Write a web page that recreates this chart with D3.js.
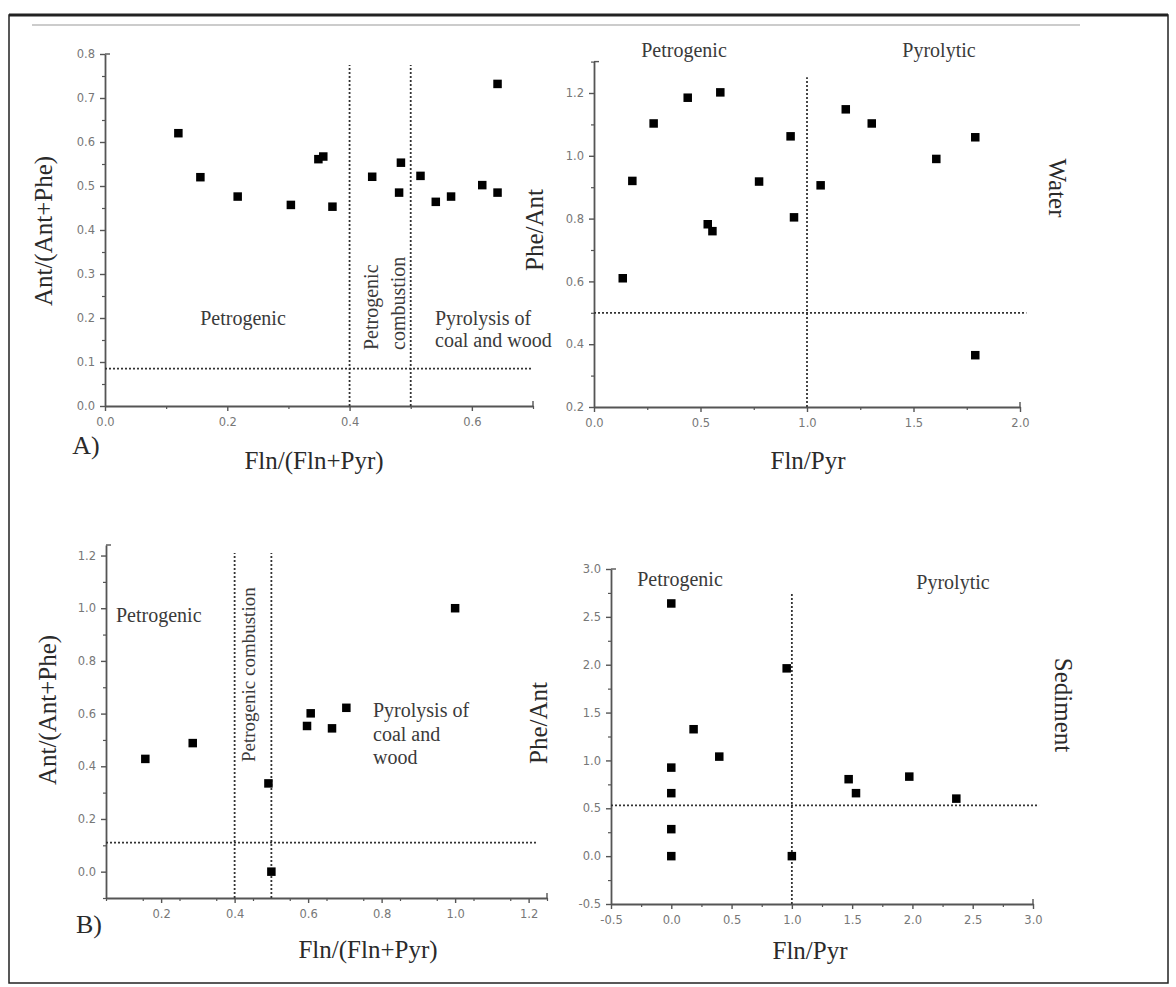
<!DOCTYPE html>
<html><head><meta charset="utf-8">
<script src="https://cdn.jsdelivr.net/npm/d3@7"></script>
<style>body{margin:0;background:#fff}svg{display:block}</style>
</head><body>
<script>
// ---- data ----
const waterAntRatioX = [0.12, 0.156, 0.217, 0.304, 0.349, 0.357, 0.372, 0.437, 0.484, 0.481, 0.516, 0.541, 0.566, 0.617, 0.642, 0.642];
const waterAntRatioY = [0.62, 0.52, 0.476, 0.457, 0.561, 0.567, 0.453, 0.521, 0.553, 0.485, 0.523, 0.464, 0.476, 0.502, 0.485, 0.732];
const waterFlnPyr = [0.135, 0.18, 0.28, 0.44, 0.593, 0.534, 0.556, 0.775, 0.923, 0.939, 1.064, 1.182, 1.304, 1.607, 1.79, 1.79];
const waterPheAnt = [0.61, 0.92, 1.103, 1.185, 1.202, 0.782, 0.76, 0.918, 1.062, 0.804, 0.906, 1.148, 1.103, 0.99, 1.059, 0.365];
const sedAntRatioX = [0.157, 0.286, 0.492, 0.5, 0.597, 0.607, 0.665, 0.704, 1.0];
const sedAntRatioY = [0.428, 0.488, 0.335, 0.0, 0.553, 0.601, 0.544, 0.622, 1.0];
const sedFlnPyr = [0, 0, 0, 0, 0, 0.185, 0.398, 0.957, 1.0, 1.471, 1.532, 1.974, 2.364];
const sedPheAnt = [2.64, 0.925, 0.658, 0.282, 0, 1.326, 1.04, 1.962, 0, 0.804, 0.658, 0.831, 0.601];

const thresholdA = {v: [0.4, 0.5], h: 0.085};
const thresholdC = {v: [1.0], h: 0.5};
const thresholdB = {v: [0.4, 0.5], h: 0.11};
const thresholdD = {v: [1.0], h: 0.53};

const ticksA_x = [0, 0.2, 0.4, 0.6], ticksA_y = [0, 0.1, 0.2, 0.3, 0.4, 0.5, 0.6, 0.7, 0.8];
const ticksC_x = [0, 0.5, 1.0, 1.5, 2.0], ticksC_y = [0.2, 0.4, 0.6, 0.8, 1.0, 1.2];
const ticksB_x = [0.2, 0.4, 0.6, 0.8, 1.0, 1.2], ticksB_y = [0, 0.2, 0.4, 0.6, 0.8, 1.0, 1.2];
const ticksD_x = [-0.5, 0, 0.5, 1.0, 1.5, 2.0, 2.5, 3.0], ticksD_y = [-0.5, 0, 0.5, 1.0, 1.5, 2.0, 2.5, 3.0];

const W = 1176, H = 987;
const svg = d3.select("body").append("svg").attr("width", W).attr("height", H);
svg.append("rect").attr("width", W).attr("height", H).attr("fill", "#fff");

// frame
svg.append("rect").attr("x", 9).attr("y", 15).attr("width", 1159).attr("height", 968)
  .attr("fill", "none").attr("stroke", "#222").attr("stroke-width", 1.5);
svg.append("line").attr("x1", 9).attr("x2", 1168).attr("y1", 15).attr("y2", 15)
  .attr("stroke", "#222").attr("stroke-width", 3);
svg.append("line").attr("x1", 32).attr("x2", 1080).attr("y1", 25).attr("y2", 25)
  .attr("stroke", "#bbb").attr("stroke-width", 1.5);

const serif = "'Liberation Serif', 'Times New Roman', serif";
const fmt = v => d3.format(".1f")(v).replace("\u2212", "-");

function panel(cfg) {
  const x = d3.scaleLinear().domain(cfg.xd).range(cfg.xr);
  const y = d3.scaleLinear().domain(cfg.yd).range(cfg.yr);
  const g = svg.append("g");
  const axColor = "#555";
  // minor ticks
  const xMinor = g.append("g").attr("transform", `translate(0,${cfg.yr[0]})`)
    .call(d3.axisBottom(x).tickValues(d3.range(cfg.xd[0], cfg.xd[1] + 1e-9, cfg.xm).filter(v => !cfg.xt.some(t => Math.abs(t - v) < 1e-6))).tickSize(3).tickFormat(""));
  const yMinor = g.append("g").attr("transform", `translate(${cfg.xr[0]},0)`)
    .call(d3.axisLeft(y).tickValues(d3.range(cfg.yd[0], cfg.yd[1] + 1e-9, cfg.ym).filter(v => !cfg.yt.some(t => Math.abs(t - v) < 1e-6))).tickSize(3).tickFormat(""));
  [xMinor, yMinor].forEach(a => { a.select(".domain").remove(); a.selectAll("line").attr("stroke", axColor).attr("stroke-width", 1.2); });
  // major axes
  const xa = g.append("g").attr("transform", `translate(0,${cfg.yr[0]})`)
    .call(d3.axisBottom(x).tickValues(cfg.xt).tickSize(5).tickPadding(7).tickSizeOuter(0).tickFormat(fmt));
  const ya = g.append("g").attr("transform", `translate(${cfg.xr[0]},0)`)
    .call(d3.axisLeft(y).tickValues(cfg.yt).tickSize(5).tickPadding(5).tickSizeOuter(0).tickFormat(fmt));
  [xa, ya].forEach(a => {
    a.select(".domain").attr("stroke", axColor).attr("stroke-width", 1.8);
    a.selectAll(".tick line").attr("stroke", axColor).attr("stroke-width", 1.4);
    a.selectAll("text").attr("fill", "#777").attr("font-family", "'DejaVu Sans', sans-serif").attr("font-size", 11.5);
  });
  // end caps
  g.append("line").attr("x1", cfg.xr[1]).attr("x2", cfg.xr[1]).attr("y1", cfg.yr[0]).attr("y2", cfg.yr[0] - 5)
    .attr("stroke", axColor).attr("stroke-width", 1.4);
  g.append("line").attr("x1", cfg.xr[0]).attr("x2", cfg.xr[0] + 5).attr("y1", cfg.yr[1]).attr("y2", cfg.yr[1])
    .attr("stroke", axColor).attr("stroke-width", 1.4);
  // threshold lines
  const dash = {stroke: "#333", "stroke-width": 1.8, "stroke-dasharray": "2,2"};
  cfg.th.v.forEach(v => {
    const l = g.append("line").attr("x1", x(v)).attr("x2", x(v)).attr("y1", y(cfg.yd[0])).attr("y2", y(cfg.vTop));
    Object.entries(dash).forEach(([k, val]) => l.attr(k, val));
  });
  const hl = g.append("line").attr("x1", x(cfg.xd[0])).attr("x2", x(cfg.hEnd)).attr("y1", y(cfg.th.h)).attr("y2", y(cfg.th.h));
  Object.entries(dash).forEach(([k, val]) => hl.attr(k, val));
  // points
  const s = 8.5;
  g.selectAll("rect.pt").data(cfg.px.map((v, i) => [v, cfg.py[i]])).join("rect")
    .attr("class", "pt").attr("x", d => x(d[0]) - s / 2).attr("y", d => y(d[1]) - s / 2)
    .attr("width", s).attr("height", s).attr("fill", "#000");
  return {x, y, g};
}

function txt(t, x, y, size, opts = {}) {
  const e = svg.append("text").attr("x", x).attr("y", y).text(t)
    .attr("font-family", serif).attr("font-size", size).attr("fill", opts.fill || "#2a2a2a")
    .attr("text-anchor", opts.anchor || "middle").attr("dominant-baseline", "middle");
  if (opts.rot) e.attr("transform", `rotate(${opts.rot},${x},${y})`);
  return e;
}

// Panel A
panel({xd: [0, 0.7], xr: [105, 533], yd: [0, 0.8], yr: [406, 54], xt: ticksA_x, xm: 0.1, yt: ticksA_y, ym: 0.05,
  th: thresholdA, vTop: 0.775, hEnd: 0.7, px: waterAntRatioX, py: waterAntRatioY});
// Panel C
panel({xd: [0, 2.0], xr: [594, 1020], yd: [0.2, 1.3], yr: [407, 61.6], xt: ticksC_x, xm: 0.25, yt: ticksC_y, ym: 0.1,
  th: thresholdC, vTop: 1.25, hEnd: 2.03, px: waterFlnPyr, py: waterPheAnt});
// Panel B
panel({xd: [0.05, 1.25], xr: [106, 547], yd: [-0.1, 1.24], yr: [898, 545], xt: ticksB_x, xm: 0.1, yt: ticksB_y, ym: 0.1,
  th: thresholdB, vTop: 1.21, hEnd: 1.22, px: sedAntRatioX, py: sedAntRatioY});
// Panel D
panel({xd: [-0.5, 3.0], xr: [611, 1033], yd: [-0.5, 3.0], yr: [904, 569], xt: ticksD_x, xm: 0.25, yt: ticksD_y, ym: 0.25,
  th: thresholdD, vTop: 2.75, hEnd: 3.05, px: sedFlnPyr, py: sedPheAnt});

// Axis titles
const T = 25;
txt("Ant/(Ant+Phe)", 46, 231, T, {rot: -90});
txt("Fln/(Fln+Pyr)", 314, 463, T);
txt("A)", 86, 448, 26);
txt("Phe/Ant", 537, 230, T, {rot: -90});
txt("Fln/Pyr", 808, 463, T);
txt("Water", 1055, 188, T, {rot: 90});
txt("Ant/(Ant+Phe)", 50, 710, T, {rot: -90});
txt("Fln/(Fln+Pyr)", 368, 952, T);
txt("B)", 89, 927, 26);
txt("Phe/Ant", 541, 723, T, {rot: -90});
txt("Fln/Pyr", 810, 953, T);
txt("Sediment", 1061, 705, T, {rot: 90});

// Region labels
const R = 20, rc = "#3a3a3a";
txt("Petrogenic", 243, 320, R, {fill: rc});
txt("Petrogenic", 373, 350, R, {fill: rc, rot: -90, anchor: "start"});
txt("combustion", 400, 350, R, {fill: rc, rot: -90, anchor: "start"});
txt("Pyrolysis of", 435, 320, R, {fill: rc, anchor: "start"});
txt("coal and wood", 435, 342, R, {fill: rc, anchor: "start"});
txt("Petrogenic", 684, 52, R, {fill: rc});
txt("Pyrolytic", 939, 52, R, {fill: rc});
txt("Petrogenic", 116, 617, R, {fill: rc, anchor: "start"});
txt("Petrogenic combustion", 251, 762, 19, {fill: rc, rot: -90, anchor: "start"});
txt("Pyrolysis of", 373, 712, R, {fill: rc, anchor: "start"});
txt("coal and", 373, 736, R, {fill: rc, anchor: "start"});
txt("wood", 373, 759, R, {fill: rc, anchor: "start"});
txt("Petrogenic", 680, 581, R, {fill: rc});
txt("Pyrolytic", 953, 584, R, {fill: rc});
</script>
</body></html>
